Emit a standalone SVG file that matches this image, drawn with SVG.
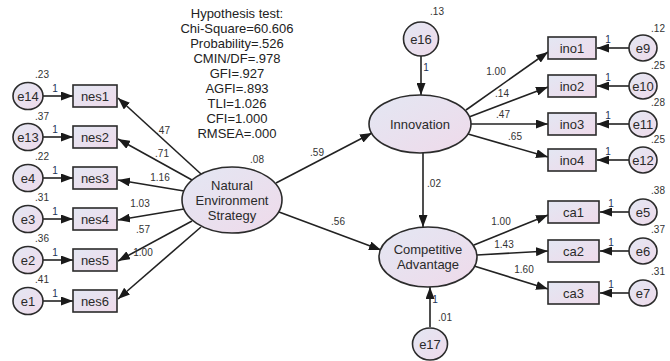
<svg xmlns="http://www.w3.org/2000/svg" width="670" height="361" viewBox="0 0 670 361">
<style>
  .bg{fill:#ffffff}
  .node{stroke:#2b2b2b;stroke-width:1.6;fill:url(#grad)}
  .lbl{font-family:"Liberation Sans",Arial,sans-serif;font-size:13px;fill:#2a2a2a;text-anchor:middle}
  .fit{font-family:"Liberation Sans",Arial,sans-serif;font-size:13px;fill:#222;text-anchor:middle}
  .sm{font-family:"Liberation Sans",Arial,sans-serif;font-size:10px;fill:#333;text-anchor:middle}
  .one{font-family:"Liberation Sans",Arial,sans-serif;font-size:10px;fill:#223355;text-anchor:middle}
  .conn line{stroke:#222;stroke-width:1.6;marker-end:url(#arr)}
</style>
<defs>
  <linearGradient id="grad" x1="0" y1="0" x2="1" y2="1">
    <stop offset="0" stop-color="#e3e7f3"/>
    <stop offset="1" stop-color="#efdaea"/>
  </linearGradient>
  <marker id="arr" viewBox="0 0 12 9" refX="12" refY="4.5" markerWidth="12" markerHeight="9" markerUnits="userSpaceOnUse" orient="auto">
    <path d="M0,0 L12,4.5 L0,9 z" fill="#1a1a1a"/>
  </marker>
</defs>
<rect class="bg" x="0" y="0" width="670" height="361"/>

<g id="fit-text">
  <text class="fit" x="237" y="18">Hypothesis test:</text>
  <text class="fit" x="237" y="33">Chi-Square=60.606</text>
  <text class="fit" x="237" y="48">Probability=.526</text>
  <text class="fit" x="237" y="63">CMIN/DF=.978</text>
  <text class="fit" x="237" y="78">GFI=.927</text>
  <text class="fit" x="237" y="93">AGFI=.893</text>
  <text class="fit" x="237" y="108">TLI=1.026</text>
  <text class="fit" x="237" y="123">CFI=1.000</text>
  <text class="fit" x="237" y="138">RMSEA=.000</text>
</g>

<g id="connectors" class="conn">
  <line x1="43" y1="96" x2="73" y2="96"/>
  <line x1="43" y1="137" x2="73" y2="137"/>
  <line x1="43" y1="178" x2="73" y2="178"/>
  <line x1="43" y1="219" x2="73" y2="219"/>
  <line x1="43" y1="260" x2="73" y2="260"/>
  <line x1="43" y1="301" x2="73" y2="301"/>
  <line x1="201" y1="174" x2="118" y2="98"/>
  <line x1="192" y1="180" x2="118" y2="139"/>
  <line x1="184" y1="191" x2="118" y2="180"/>
  <line x1="184" y1="209" x2="118" y2="220"/>
  <line x1="192" y1="221" x2="118" y2="261"/>
  <line x1="201" y1="227" x2="118" y2="299"/>
  <line x1="276" y1="183" x2="372" y2="133"/>
  <line x1="279" y1="212" x2="381" y2="250"/>
  <line x1="423" y1="152" x2="423" y2="227"/>
  <line x1="421" y1="56" x2="421" y2="95"/>
  <line x1="430" y1="327" x2="430" y2="287"/>
  <line x1="466" y1="110" x2="548" y2="52"/>
  <line x1="469" y1="117" x2="548" y2="87"/>
  <line x1="471" y1="124" x2="548" y2="124"/>
  <line x1="468" y1="134" x2="548" y2="157"/>
  <line x1="629" y1="48" x2="597" y2="48"/>
  <line x1="629" y1="86" x2="597" y2="86"/>
  <line x1="629" y1="124" x2="597" y2="124"/>
  <line x1="629" y1="160" x2="597" y2="160"/>
  <line x1="474" y1="245" x2="548" y2="215"/>
  <line x1="477" y1="255" x2="548" y2="251"/>
  <line x1="474" y1="266" x2="548" y2="289"/>
  <line x1="629" y1="212" x2="600" y2="212"/>
  <line x1="629" y1="251" x2="600" y2="251"/>
  <line x1="629" y1="293" x2="600" y2="293"/>
</g>

<g id="connector-labels">
  <text class="one" x="55" y="92">1</text>
  <text class="one" x="55" y="133">1</text>
  <text class="one" x="55" y="174">1</text>
  <text class="one" x="55" y="215">1</text>
  <text class="one" x="55" y="256">1</text>
  <text class="one" x="55" y="297">1</text>
  <text class="sm" x="163" y="134">.47</text>
  <text class="sm" x="162" y="157">.71</text>
  <text class="sm" x="160" y="181">1.16</text>
  <text class="sm" x="140" y="207">1.03</text>
  <text class="sm" x="143" y="233">.57</text>
  <text class="sm" x="143" y="256">1.00</text>
  <text class="sm" x="317" y="156">.59</text>
  <text class="sm" x="338" y="225">.56</text>
  <text class="sm" x="434" y="187">.02</text>
  <text class="one" x="426" y="71">1</text>
  <text class="one" x="435" y="303">1</text>
  <text class="sm" x="496" y="75">1.00</text>
  <text class="sm" x="502" y="97">.14</text>
  <text class="sm" x="503" y="118">.47</text>
  <text class="sm" x="515" y="140">.65</text>
  <text class="one" x="608" y="43">1</text>
  <text class="one" x="608" y="81">1</text>
  <text class="one" x="608" y="119">1</text>
  <text class="one" x="608" y="155">1</text>
  <text class="sm" x="501" y="225">1.00</text>
  <text class="sm" x="504" y="248">1.43</text>
  <text class="sm" x="524" y="273">1.60</text>
  <text class="one" x="611" y="207">1</text>
  <text class="one" x="611" y="246">1</text>
  <text class="one" x="611" y="288">1</text>
</g>

<g id="NES">
  <ellipse class="node" cx="232" cy="200" rx="50" ry="33"/>
  <text class="lbl" x="232" y="190">Natural</text>
  <text class="lbl" x="232" y="205">Environment</text>
  <text class="lbl" x="232" y="220">Strategy</text>
  <text class="sm" x="257" y="163">.08</text>
</g>
<g id="Innovation">
  <ellipse class="node" cx="420" cy="124" rx="51" ry="29"/>
  <text class="lbl" x="420" y="129">Innovation</text>
</g>
<g id="CA">
  <ellipse class="node" cx="428" cy="257" rx="49" ry="30"/>
  <text class="lbl" x="428" y="254">Competitive</text>
  <text class="lbl" x="428" y="269">Advantage</text>
</g>

<g id="nes1"><rect class="node" x="73" y="85" width="44" height="22"/><text class="lbl" x="95" y="101">nes1</text></g>
<g id="nes2"><rect class="node" x="73" y="126" width="44" height="22"/><text class="lbl" x="95" y="142">nes2</text></g>
<g id="nes3"><rect class="node" x="73" y="167" width="44" height="22"/><text class="lbl" x="95" y="183">nes3</text></g>
<g id="nes4"><rect class="node" x="73" y="208" width="44" height="22"/><text class="lbl" x="95" y="224">nes4</text></g>
<g id="nes5"><rect class="node" x="73" y="249" width="44" height="22"/><text class="lbl" x="95" y="265">nes5</text></g>
<g id="nes6"><rect class="node" x="73" y="290" width="44" height="22"/><text class="lbl" x="95" y="306">nes6</text></g>

<g id="e14"><ellipse class="node" cx="28" cy="96" rx="15" ry="13.5"/><text class="lbl" x="28" y="101">e14</text><text class="sm" x="42" y="78">.23</text></g>
<g id="e13"><ellipse class="node" cx="28" cy="137" rx="15" ry="13.5"/><text class="lbl" x="28" y="142">e13</text><text class="sm" x="42" y="120">.37</text></g>
<g id="e4"><ellipse class="node" cx="28" cy="178" rx="15" ry="13.5"/><text class="lbl" x="28" y="183">e4</text><text class="sm" x="42" y="160">.22</text></g>
<g id="e3"><ellipse class="node" cx="28" cy="219" rx="15" ry="13.5"/><text class="lbl" x="28" y="224">e3</text><text class="sm" x="42" y="201">.31</text></g>
<g id="e2"><ellipse class="node" cx="28" cy="260" rx="15" ry="13.5"/><text class="lbl" x="28" y="265">e2</text><text class="sm" x="42" y="242">.36</text></g>
<g id="e1"><ellipse class="node" cx="28" cy="301" rx="15" ry="13.5"/><text class="lbl" x="28" y="306">e1</text><text class="sm" x="42" y="283">.41</text></g>

<g id="e16"><ellipse class="node" cx="421" cy="39" rx="17.5" ry="17"/><text class="lbl" x="421" y="44">e16</text><text class="sm" x="437" y="15">.13</text></g>
<g id="e17"><ellipse class="node" cx="430" cy="344" rx="17.5" ry="16"/><text class="lbl" x="430" y="349">e17</text><text class="sm" x="445" y="321">.01</text></g>

<g id="ino1"><rect class="node" x="548" y="37" width="48" height="22"/><text class="lbl" x="572" y="53">ino1</text></g>
<g id="ino2"><rect class="node" x="548" y="75" width="48" height="22"/><text class="lbl" x="572" y="91">ino2</text></g>
<g id="ino3"><rect class="node" x="548" y="113" width="48" height="22"/><text class="lbl" x="572" y="129">ino3</text></g>
<g id="ino4"><rect class="node" x="548" y="149" width="48" height="22"/><text class="lbl" x="572" y="165">ino4</text></g>

<g id="e9"><ellipse class="node" cx="643" cy="48" rx="14" ry="13"/><text class="lbl" x="643" y="53">e9</text><text class="sm" x="658" y="32">.12</text></g>
<g id="e10"><ellipse class="node" cx="643" cy="86" rx="14" ry="13"/><text class="lbl" x="643" y="91">e10</text><text class="sm" x="658" y="69">.25</text></g>
<g id="e11"><ellipse class="node" cx="643" cy="124" rx="14" ry="13"/><text class="lbl" x="643" y="129">e11</text><text class="sm" x="658" y="106">.28</text></g>
<g id="e12"><ellipse class="node" cx="643" cy="160" rx="14" ry="13"/><text class="lbl" x="643" y="165">e12</text><text class="sm" x="658" y="143">.25</text></g>

<g id="ca1"><rect class="node" x="548" y="201" width="51" height="22"/><text class="lbl" x="573.5" y="217">ca1</text></g>
<g id="ca2"><rect class="node" x="548" y="240" width="51" height="22"/><text class="lbl" x="573.5" y="256">ca2</text></g>
<g id="ca3"><rect class="node" x="548" y="282" width="51" height="22"/><text class="lbl" x="573.5" y="298">ca3</text></g>

<g id="e5"><ellipse class="node" cx="643" cy="212" rx="14" ry="13"/><text class="lbl" x="643" y="217">e5</text><text class="sm" x="658" y="194">.38</text></g>
<g id="e6"><ellipse class="node" cx="643" cy="251" rx="14" ry="13"/><text class="lbl" x="643" y="256">e6</text><text class="sm" x="658" y="233">.37</text></g>
<g id="e7"><ellipse class="node" cx="643" cy="293" rx="14" ry="13"/><text class="lbl" x="643" y="298">e7</text><text class="sm" x="658" y="275">.31</text></g>
</svg>
